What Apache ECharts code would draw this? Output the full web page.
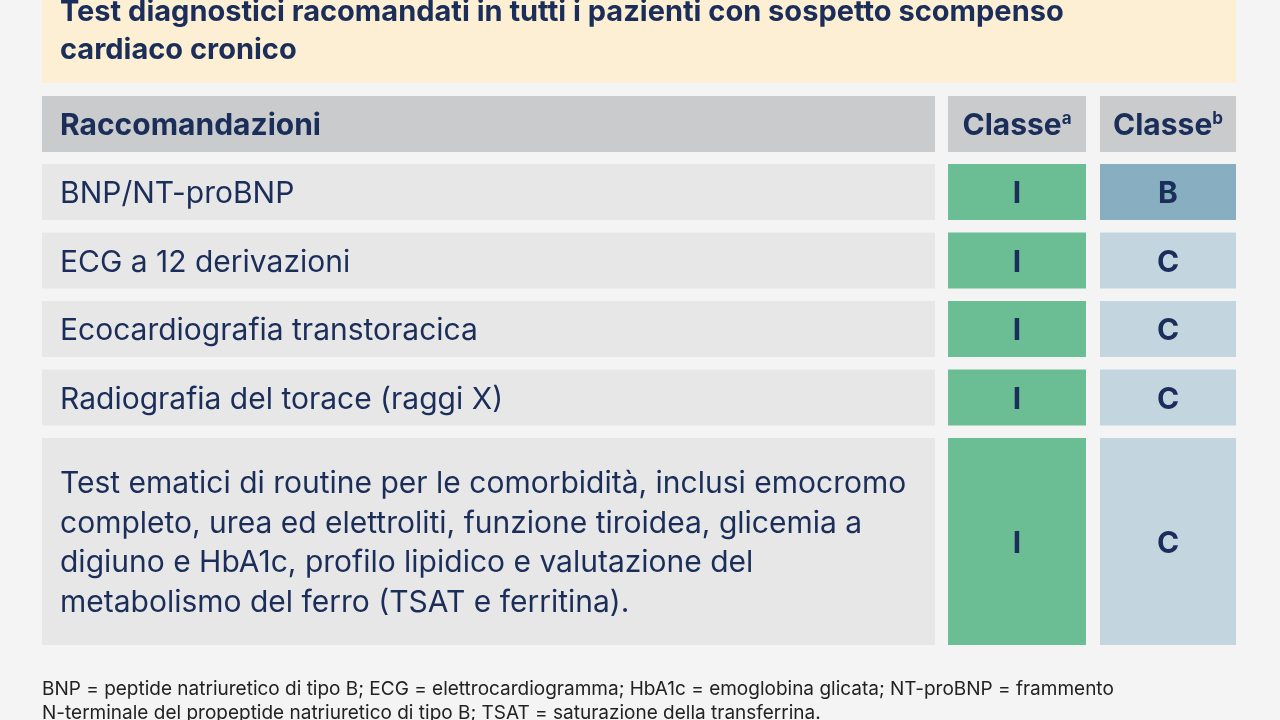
<!DOCTYPE html>
<html><head><meta charset="utf-8">
<script src="https://cdn.jsdelivr.net/npm/echarts@6/dist/echarts.min.js"></script>
<style>html,body{margin:0;background:#f4f4f4}#c{width:1280px;height:720px}</style>
</head><body><div id="c"></div>
<script>
// dati della tabella
var titolo = 'Test diagnostici racomandati in tutti i pazienti con sospetto scompenso\ncardiaco cronico';
var intestazioni = ['Raccomandazioni', 'Classe', 'Classe'];
var apici = ['a', 'b'];
var raccomandazioni = [
  'BNP/NT-proBNP',
  'ECG a 12 derivazioni',
  'Ecocardiografia transtoracica',
  'Radiografia del torace (raggi X)',
  'Test ematici di routine per le comorbidità, inclusi emocromo\ncompleto, urea ed elettroliti, funzione tiroidea, glicemia a\ndigiuno e HbA1c, profilo lipidico e valutazione del\nmetabolismo del ferro (TSAT e ferritina).'
];
var classeA = ['I', 'I', 'I', 'I', 'I'];
var classeB = ['B', 'C', 'C', 'C', 'C'];
var nota = 'BNP = peptide natriuretico di tipo B; ECG = elettrocardiogramma; HbA1c = emoglobina glicata; NT-proBNP = frammento\nN-terminale del propeptide natriuretico di tipo B; TSAT = saturazione della transferrina.';

var blu = '#1b2d59';
var font = 'Inter, "Liberation Sans", Arial, sans-serif';
var colori = { I: '#6bbd93', B: '#88afc1', C: '#c3d6df' };
var colonne = [[42, 935], [948, 1086], [1100, 1236]];

// posizione verticale delle righe calcolata dal numero di linee
function righe() {
  var out = [], y = 164;
  raccomandazioni.forEach(function (t) {
    var n = t.split('\n').length;
    var h = n === 1 ? 56 : n * 40 + 47;
    out.push([y, h]);
    y += h + 12.5;
  });
  return out;
}
var pos = righe();

function cella(api, x0, x1, y, h, fill, text, style) {
  var a = api.coord([x0, y]), b = api.coord([x1, y + h]);
  var g = { type: 'group', children: [
    { type: 'rect', shape: { x: a[0], y: a[1], width: b[0] - a[0], height: b[1] - a[1] }, style: { fill: fill } }
  ]};
  if (text != null) {
    var cx = style.align === 'left' ? a[0] + 18 : (a[0] + b[0]) / 2;
    g.children.push({ type: 'text', style: Object.assign({ x: cx, y: (a[1] + b[1]) / 2 + 2, text: text, fill: blu,
      verticalAlign: 'middle', fontFamily: font }, style) });
  }
  return g;
}

var chart = echarts.init(document.getElementById('c'));
chart.setOption({
  backgroundColor: '#f4f4f4',
  animation: false,
  grid: { left: 0, right: 0, top: 0, bottom: 0 },
  xAxis: { type: 'value', min: 0, max: 1280, show: false },
  yAxis: { type: 'value', min: 0, max: 720, inverse: true, show: false },
  graphic: [
    { type: 'rect', shape: { x: 42, y: 0, width: 1194, height: 83 }, style: { fill: '#fcefd4' }, z: -1 },
    { type: 'text', left: 60, top: -7, style: { text: titolo, fill: blu, font: 'bold 29px ' + font, lineHeight: 38 } },
    { type: 'text', left: 42, top: 677, style: { text: nota, fill: '#222', font: '19px ' + font, lineHeight: 24 } }
  ],
  series: [
    {
      type: 'custom', data: [0],
      renderItem: function (p, api) {
        var st = { fontSize: 30, fontWeight: 'bold' };
        var rich = { sup: { fontSize: 17, fontWeight: 'bold', fill: blu, verticalAlign: 'top', padding: [0, 0, 14, 0], fontFamily: font },
                     m: { fontSize: 30, fontWeight: 'bold', fill: blu, fontFamily: font } };
        return { type: 'group', children: [
          cella(api, colonne[0][0], colonne[0][1], 96, 56, '#c9cbcd', intestazioni[0], Object.assign({ align: 'left' }, st)),
          cella(api, colonne[1][0], colonne[1][1], 96, 56, '#c9cbcd', '{m|' + intestazioni[1] + '}{sup|' + apici[0] + '}', { align: 'center', rich: rich }),
          cella(api, colonne[2][0], colonne[2][1], 96, 56, '#c9cbcd', '{m|' + intestazioni[2] + '}{sup|' + apici[1] + '}', { align: 'center', rich: rich })
        ]};
      }
    },
    {
      type: 'custom', data: raccomandazioni.map(function (_, i) { return [i]; }),
      renderItem: function (p, api) {
        var i = api.value(0), y = pos[i][0], h = pos[i][1];
        return { type: 'group', children: [
          cella(api, colonne[0][0], colonne[0][1], y, h, '#e7e7e7', raccomandazioni[i], { align: 'left', fontSize: 30, lineHeight: 39.5 }),
          cella(api, colonne[1][0], colonne[1][1], y, h, colori[classeA[i]], classeA[i], { align: 'center', fontSize: 30, fontWeight: 'bold' }),
          cella(api, colonne[2][0], colonne[2][1], y, h, colori[classeB[i]], classeB[i], { align: 'center', fontSize: 30, fontWeight: 'bold' })
        ]};
      }
    }
  ]
});
</script></body></html>
